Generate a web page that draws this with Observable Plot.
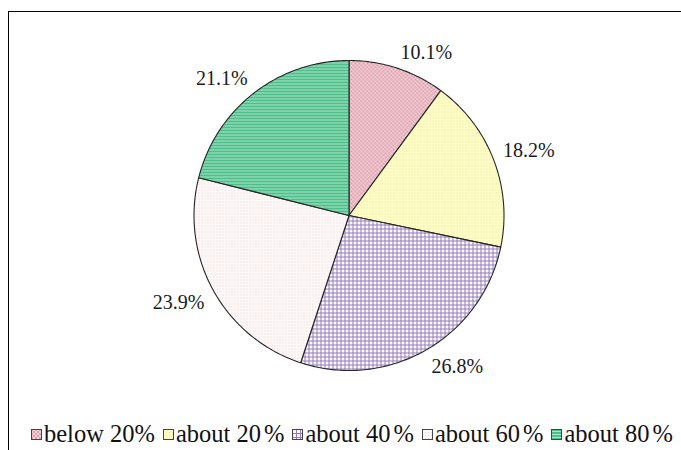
<!DOCTYPE html>
<html><head><meta charset="utf-8">
<script src="https://cdn.jsdelivr.net/npm/d3@7"></script>
<script src="https://cdn.jsdelivr.net/npm/@observablehq/plot@0.6"></script>
<style>
html,body{margin:0;padding:0;background:#fff;}
#wrap{position:relative;width:681px;height:450px;overflow:hidden;}
#frame{position:absolute;left:8px;top:11px;width:800px;height:600px;border-left:1.5px solid #000;border-top:1.5px solid #000;}
#chart{position:absolute;left:0;top:0;}
#legend{position:absolute;left:31px;top:420px;white-space:nowrap;font-family:"Liberation Serif",serif;font-size:24.5px;line-height:28px;color:#111;display:flex;align-items:center;}
.item{display:inline-flex;align-items:center;margin-right:8px;}
.item:last-child{margin-right:0;}
.item svg{margin-right:2px;}
.pc{margin-left:3px;}
</style></head><body>
<div id="wrap"><div id="frame"></div><div id="chart"></div><div id="legend"></div></div>
<script>
const categories = ["below 20%", "about 20%", "about 40%", "about 60%", "about 80%"];
const shares = [10.1, 18.2, 26.8, 23.9, 21.1];
const sliceLabels = ["10.1%", "18.2%", "26.8%", "23.9%", "21.1%"];

const cx = 348.5, cy = 215, R = 155, gap = 10;
const total = d3.sum(shares);
let acc = 0;
const slices = shares.map((v, i) => {
  const a0 = acc / total * 2 * Math.PI;
  acc += v;
  const a1 = acc / total * 2 * Math.PI;
  const n = Math.max(2, Math.ceil((a1 - a0) / (Math.PI / 180)));
  const pts = [{x: 0, y: 0}];
  for (let k = 0; k <= n; k++) {
    const a = a0 + (a1 - a0) * k / n;
    pts.push({x: Math.sin(a), y: Math.cos(a)});
  }
  return {i, pts, mid: (a0 + a1) / 2};
});
const k = 1 + gap / R;
const labelData = slices.map(s => ({
  x: k * Math.sin(s.mid), y: k * Math.cos(s.mid), text: sliceLabels[s.i],
  right: Math.sin(s.mid) >= 0, up: Math.cos(s.mid) >= 0
}));
const labelMark = (right, up) => Plot.text(labelData.filter(d => d.right === right && d.up === up), {
  x: "x", y: "y", text: "text", fontSize: 20, fontFamily: "Liberation Serif", fill: "#1a1a1a",
  textAnchor: right ? "start" : "end", lineAnchor: up ? "bottom" : "top"
});

const chart = Plot.plot({
  width: 681, height: 412, margin: 0,
  style: {background: "transparent", overflow: "visible"},
  x: {domain: [-1, 1], range: [cx - R, cx + R], axis: null},
  y: {domain: [-1, 1], range: [cy + R, cy - R], axis: null},
  marks: [
    ...slices.map(s => Plot.line(s.pts, {x: "x", y: "y", fill: `url(#p${s.i})`, stroke: "#262626", strokeWidth: 1.1, curve: "linear-closed"})),
    labelMark(true, true), labelMark(true, false), labelMark(false, true), labelMark(false, false)
  ]
});
const defs = document.createElementNS("http://www.w3.org/2000/svg", "defs");
defs.innerHTML = `
<pattern id="p0" width="4" height="4" patternUnits="userSpaceOnUse"><rect width="4" height="4" fill="#f5d6dc"/><rect width="2" height="2" fill="#dc9eab"/><rect x="2" y="2" width="2" height="2" fill="#dc9eab"/></pattern>
<pattern id="p1" width="3" height="3" patternUnits="userSpaceOnUse"><rect width="3" height="3" fill="#fdfcc6"/><rect width="1" height="1" fill="#ecea9e"/></pattern>
<pattern id="p2" width="4" height="4" patternUnits="userSpaceOnUse"><rect width="4" height="4" fill="#fbf9fd"/><path d="M0 0.5H4M0.5 0V4" stroke="#957dba" stroke-width="1"/></pattern>
<pattern id="p3" width="3" height="3" patternUnits="userSpaceOnUse"><rect width="3" height="3" fill="#fdf9f9"/><rect width="1" height="1" fill="#ebd2d2"/></pattern>
<pattern id="p4" width="3" height="3" patternUnits="userSpaceOnUse"><rect width="3" height="3" fill="#4fbf8a"/><rect y="2" width="3" height="1" fill="#a9e5c9"/></pattern>`;
chart.insertBefore(defs, chart.firstChild);
document.getElementById("chart").appendChild(chart);

const legend = document.getElementById("legend");
categories.forEach((c, i) => {
  const item = document.createElement("span");
  item.className = "item";
  const txt = i === 0 ? c : c.replace("%", "<span class='pc'>%</span>");
  item.innerHTML = `<svg width="11" height="11"><rect x="0.5" y="0.5" width="10" height="10" fill="url(#p${i})" stroke="#444"/></svg><span>${txt}</span>`;
  legend.appendChild(item);
});
</script>
</body></html>
